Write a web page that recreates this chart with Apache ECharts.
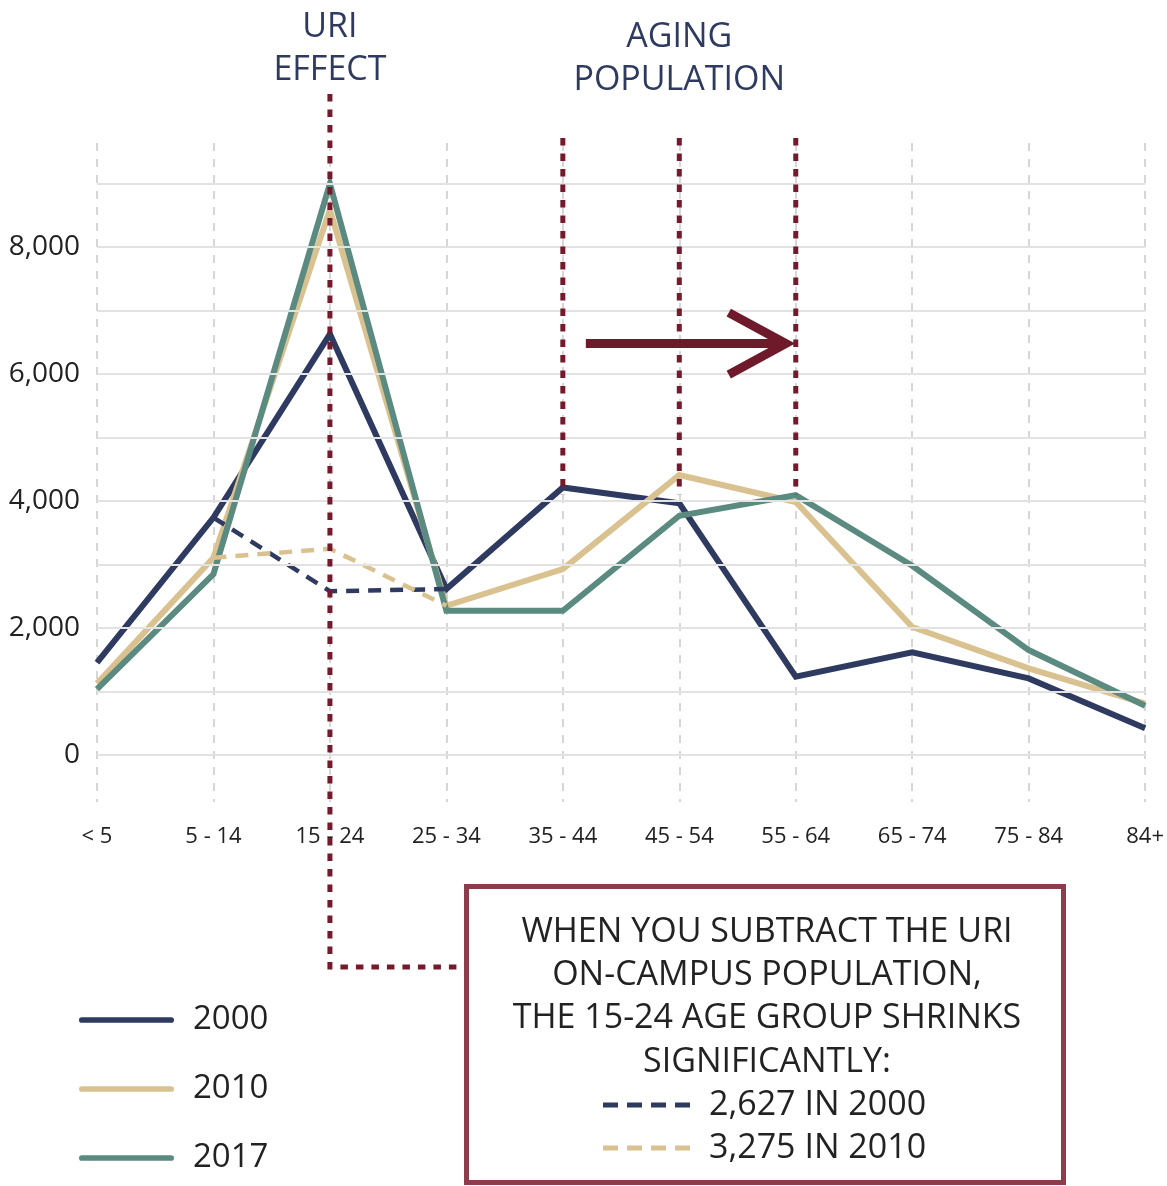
<!DOCTYPE html>
<html><head><meta charset="utf-8">
<script src="https://cdn.jsdelivr.net/npm/echarts@6/dist/echarts.min.js"></script>
<style>html,body{margin:0;padding:0;background:#fff}#c{width:1167px;height:1186px}</style>
</head><body><div id="c"></div>
<script>
const categories = ['< 5', '5 - 14', '15 - 24', '25 - 34', '35 - 44', '45 - 54', '55 - 64', '65 - 74', '75 - 84', '84+'];
const pop2000 = [1455, 3740, 6630, 2614, 4215, 3964, 1233, 1617, 1207, 420];
const pop2010 = [1124, 3107, 8590, 2351, 2929, 4409, 3985, 2016, 1365, 810];
const pop2017 = [1039, 2850, 8998, 2272, 2272, 3768, 4094, 2981, 1653, 777];
const offCampus2000 = [null, 3740, 2580, 2614, null, null, null, null, null, null];
const offCampus2010 = [null, 3107, 3250, 2351, null, null, null, null, null, null];
const yTickLabels = [0, 2000, 4000, 6000, 8000];
const gridValues = [0, 1000, 2000, 3000, 4000, 5000, 6000, 7000, 8000, 9000];
const seriesNames = ['2000', '2010', '2017'];
const boxLines = ['WHEN YOU SUBTRACT THE URI', 'ON-CAMPUS POPULATION,', 'THE 15-24 AGE GROUP SHRINKS', 'SIGNIFICANTLY:'];
const boxKeys = ['2,627 IN 2000', '3,275 IN 2010'];

const C2000 = '#2e3a5f', C2010 = '#d9c28f', C2017 = '#5b8a81';
const RED = '#741a2c';
const FONT = 'Open Sans';

const chart = echarts.init(document.getElementById('c'));
const lineSeries = (name, data, color, dashed) => ({
  name, type: 'line', data, symbol: 'none', connectNulls: false,
  lineStyle: { color, width: dashed ? 4.5 : 6, type: dashed ? [13, 9] : 'solid', cap: 'butt', join: 'miter' },
  itemStyle: { color }, z: 3, silent: true, animation: false
});
const option = {
  animation: false,
  grid: { left: 97, right: 21, top: 143, bottom: 384, containLabel: false },
  legend: {
    data: seriesNames, orient: 'vertical', left: 79, top: 1002, itemGap: 33, padding: 0,
    itemWidth: 95, itemHeight: 6,
    icon: 'path://M3,0H97A3,3,0,0,1,97,6H3A3,3,0,0,1,3,0Z',
    textStyle: { fontFamily: FONT, fontSize: 33, color: '#222', lineHeight: 36, padding: [0, 0, 0, 14] },
    selectedMode: false
  },
  xAxis: {
    type: 'category', data: categories, boundaryGap: false,
    axisLine: { show: false }, axisTick: { show: false },
    axisLabel: { fontFamily: FONT, fontSize: 22, color: '#222', margin: 24, interval: 0 },
    splitLine: { show: true, lineStyle: { color: '#d6d6d6', width: 2, type: [8, 8] } }
  },
  yAxis: {
    type: 'value', min: -740, max: 9640,
    axisLine: { show: false }, axisTick: { show: false }, splitLine: { show: false },
    axisLabel: { customValues: yTickLabels, fontFamily: FONT, fontSize: 28, color: '#222', margin: 17,
      formatter: v => v.toLocaleString('en-US') }
  },
  series: [
    {
      name: 'grid', type: 'line', data: [], z: 1, silent: true,
      markLine: {
        silent: true, symbol: 'none', label: { show: false }, animation: false,
        lineStyle: { color: '#e2e2e2', width: 2, type: 'solid' },
        data: gridValues.map(v => ({ yAxis: v }))
      }
    },
    lineSeries('2000', pop2000, C2000, false),
    lineSeries('2010', pop2010, C2010, false),
    lineSeries('2017', pop2017, C2017, false),
    lineSeries('2000 off-campus', offCampus2000, C2000, true),
    lineSeries('2010 off-campus', offCampus2010, C2010, true)
  ]
};
chart.setOption(option);

const px = (cat, v) => chart.convertToPixel({ gridIndex: 0 }, [cat, v]);
const dot = { stroke: RED, lineWidth: 5, lineDash: [7.5, 8] };
const g = [];
// URI effect connector
const xUri = px('15 - 24', 0)[0];
g.push({ type: 'polyline', z: 10, shape: { points: [[xUri, 94], [xUri, 967], [465, 967]] }, style: Object.assign({ fill: null }, dot) });
// Aging population markers
['35 - 44', '45 - 54', '55 - 64'].forEach(c => {
  const x = px(c, 0)[0];
  g.push({ type: 'line', z: 10, shape: { x1: x, y1: 138, x2: x, y2: px(c, 4100)[1] }, style: dot });
});
// arrow
const ay = px('45 - 54', 6480)[1];
const ax1 = px('35 - 44', 0)[0] + 23, ax2 = px('55 - 64', 0)[0] - 10;
g.push({ type: 'line', z: 10, shape: { x1: ax1, y1: ay, x2: ax2 - 4, y2: ay }, style: { stroke: '#6f1a2b', lineWidth: 9 } });
g.push({ type: 'polyline', z: 10, shape: { points: [[ax2 - 57, ay - 31], [ax2, ay], [ax2 - 57, ay + 31]] }, style: { stroke: '#6f1a2b', lineWidth: 9, fill: null } });
// headings
const head = (txt, x, y) => ({ type: 'text', z: 10, style: { text: txt, x, y, fill: '#2e3a5f', font: '34px "' + FONT + '"', textAlign: 'center', textVerticalAlign: 'middle' } });
g.push(head('URI', xUri, 27), head('EFFECT', xUri, 70));
const xAge = px('45 - 54', 0)[0];
g.push(head('AGING', xAge, 37), head('POPULATION', xAge, 80));
// box
g.push({ type: 'rect', z: 10, shape: { x: 466.5, y: 886.5, width: 597, height: 296 }, style: { fill: '#fff', stroke: '#8b3d4b', lineWidth: 5 } });
const boxY = [932, 975, 1018, 1062];
boxLines.forEach((t, i) => g.push({ type: 'text', z: 11, style: { text: t, x: 767, y: boxY[i], fill: '#222', font: '34px "' + FONT + '"', textAlign: 'center', textVerticalAlign: 'middle' } }));
const keyY = [1105, 1148];
const keyC = [C2000, C2010];
boxKeys.forEach((t, i) => {
  g.push({ type: 'line', z: 11, shape: { x1: 603, y1: keyY[i], x2: 690, y2: keyY[i] }, style: { stroke: keyC[i], lineWidth: 5, lineDash: [15, 9] } });
  g.push({ type: 'text', z: 11, style: { text: t, x: 709, y: keyY[i], fill: '#222', font: '34px "' + FONT + '"', textAlign: 'left', textVerticalAlign: 'middle' } });
});
chart.setOption({ graphic: { elements: g } });
</script></body></html>
